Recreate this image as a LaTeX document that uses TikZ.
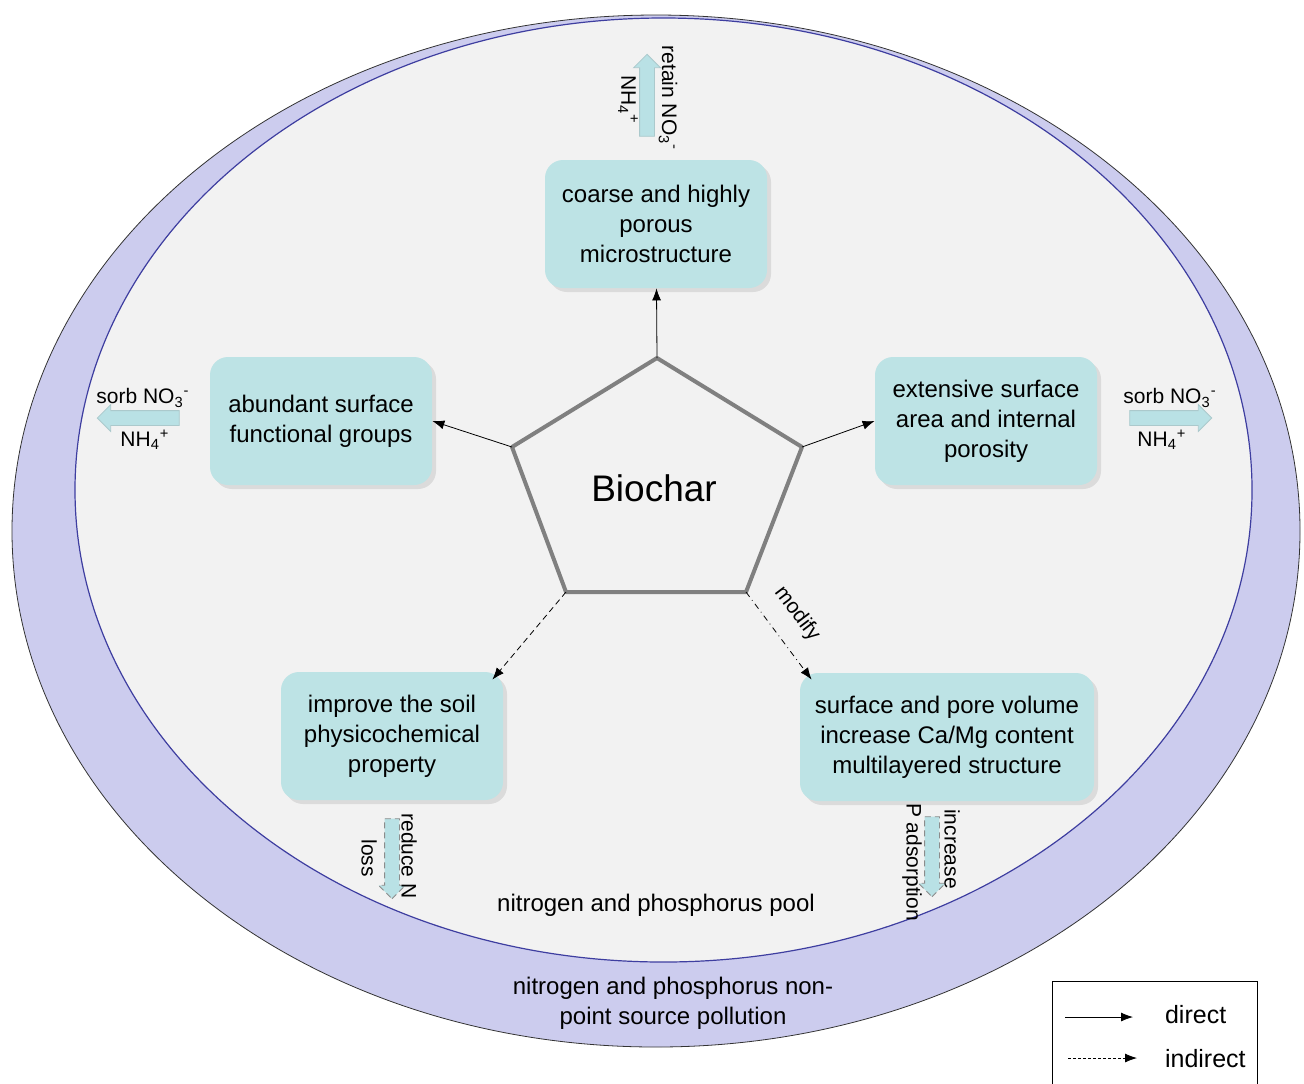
\documentclass[tikz,border=0pt]{standalone}
\usepackage{fontspec}
\setmainfont{Liberation Sans}
\usepackage{tikz}
\usetikzlibrary{shapes,shapes.arrows,arrows.meta,shadows,positioning}
\definecolor{boxcol}{RGB}{189,227,229}
\definecolor{arrcol}{RGB}{185,225,229}
\definecolor{lavcol}{RGB}{204,204,238}
\definecolor{poolcol}{RGB}{242,242,242}
\definecolor{rimcol}{RGB}{62,62,160}
\tikzset{
  effbox/.style={ fill=boxcol, rounded corners=9pt, minimum width=111pt, minimum height=64pt, align=center,
    font=\fontsize{12}{15}\selectfont, drop shadow={shadow xshift=2pt, shadow yshift=-2pt, opacity=0.2} }
}
\tikzset{
  fatarr/.style={ single arrow, fill=arrcol, draw=arrcol!75!gray, minimum height=41pt, inner sep=3.5pt,
    single arrow head extend=3pt }
}
\tikzset{
  smlbl/.style={ font=\fontsize{10.5}{12}\selectfont, inner sep=0pt }
}
\tikzset{
  conn/.style={ thin, -{Latex[length=6pt,width=4.5pt]} }
}

\begin{document}
\begin{tikzpicture}[x=0.5pt, y=-0.5pt]
  \useasboundingbox (0,0) rectangle (1304,1083);
  % the two rings
  \draw[fill=lavcol, draw=black!80] (656,531) ellipse [x radius=644, y radius=516];
  \draw[fill=poolcol, draw=rimcol, semithick] (663.5,490) ellipse [x radius=588.5, y radius=472];

  % pentagon
  \coordinate (pt) at (657,358);
  \coordinate (pl) at (512,447);
  \coordinate (pr) at (802,447);
  \coordinate (pbl) at (566,592);
  \coordinate (pbr) at (746,592);
  \draw[line width=2pt, black!50, line join=round] (pt) -- (pr) -- (pbr) -- (pbl) -- (pl) -- cycle;
  \node[font=\fontsize{18.5}{20}\selectfont] (bio) at (654,488) {Biochar};

  % effect boxes
  \node[effbox] (coarse) at (656,224) {coarse and highly\\porous\\microstructure};
  \node[effbox] (abund) at (321,421) {abundant surface\\functional groups};
  \node[effbox] (exten) at (986,421) {extensive surface\\area and internal\\porosity};
  \node[effbox] (improve) at (392,736) {improve the soil\\physicochemical\\property};
  \node[effbox, minimum width=147pt] (surf) at (947,737) {surface and pore volume\\increase Ca/Mg content\\multilayered structure};

  \draw[conn] (pt) -- (coarse);
  \draw[conn] (pl) -- (abund.east);
  \draw[conn] (pr) -- (exten.west);
  \draw[conn, dash pattern=on 3pt off 2pt] (pbl) -- ([xshift=-5.5pt, yshift=-4pt]improve.north east);
  \draw[conn, dash dot] (pbr) -- ([xshift=6pt, yshift=-3.5pt]surf.north west);
  \node[smlbl, rotate=-53] (modi) at (797,614) {modify};

  % fat arrows and their labels
  \node[fatarr, rotate=90] (upA) at (647,99) {};
  \node[smlbl, rotate=-90] (retN) at (668,98) {retain NO\textsubscript{3}\textsuperscript{-}};
  \node[smlbl, rotate=-90] (retH) at (628,100) {NH\textsubscript{4}\textsuperscript{+}};

  \node[fatarr, rotate=180] (leftA) at (142,418) {};
  \node[smlbl] (lsorb) at (143,398) {sorb NO\textsubscript{3}\textsuperscript{-}};
  \node[smlbl] (lnh) at (145,440) {NH\textsubscript{4}\textsuperscript{+}};

  \node[fatarr] (rightA) at (1167,418) {};
  \node[smlbl] (rsorb) at (1170,398) {sorb NO\textsubscript{3}\textsuperscript{-}};
  \node[smlbl] (rnh) at (1162,440) {NH\textsubscript{4}\textsuperscript{+}};

  \node[fatarr, rotate=-90, minimum height=40pt, draw=black!45, densely dashed] (downL) at (392,855) {};
  \node[smlbl, rotate=-90] (redN) at (409,856) {reduce N};
  \node[smlbl, rotate=-90] (loss) at (369,858) {loss};

  \node[fatarr, rotate=-90, minimum height=40pt, draw=black!45, densely dashed] (downR) at (932,853) {};
  \node[smlbl, rotate=-90] (incr) at (952,849) {increase};
  \node[smlbl, rotate=-90] (Pads) at (912,862) {P adsorption};

  % ring texts
  \node[font=\fontsize{12}{15}\selectfont] (pool) at (656,905) {nitrogen and phosphorus pool};
  \node[font=\fontsize{12}{15}\selectfont, align=center] (npsp) at (673,1003) {nitrogen and phosphorus non-\\point source pollution};

  % legend
  \draw[thin] (1052,981) rectangle (1257,1110);
  \coordinate (d1) at (1065,1017);
  \coordinate (d2) at (1133,1017);
  \coordinate (i1) at (1068,1058);
  \coordinate (i2) at (1137,1058);
  \draw[conn] (d1) -- (d2);
  \draw[conn, dash pattern=on 1.5pt off 1pt] (i1) -- (i2);
  \node[anchor=west, font=\fontsize{12.5}{14}\selectfont] (ldir) at (1158,1015) {direct};
  \node[anchor=west, font=\fontsize{12.5}{14}\selectfont] (lind) at (1158,1059) {indirect};
\end{tikzpicture}
\end{document}
